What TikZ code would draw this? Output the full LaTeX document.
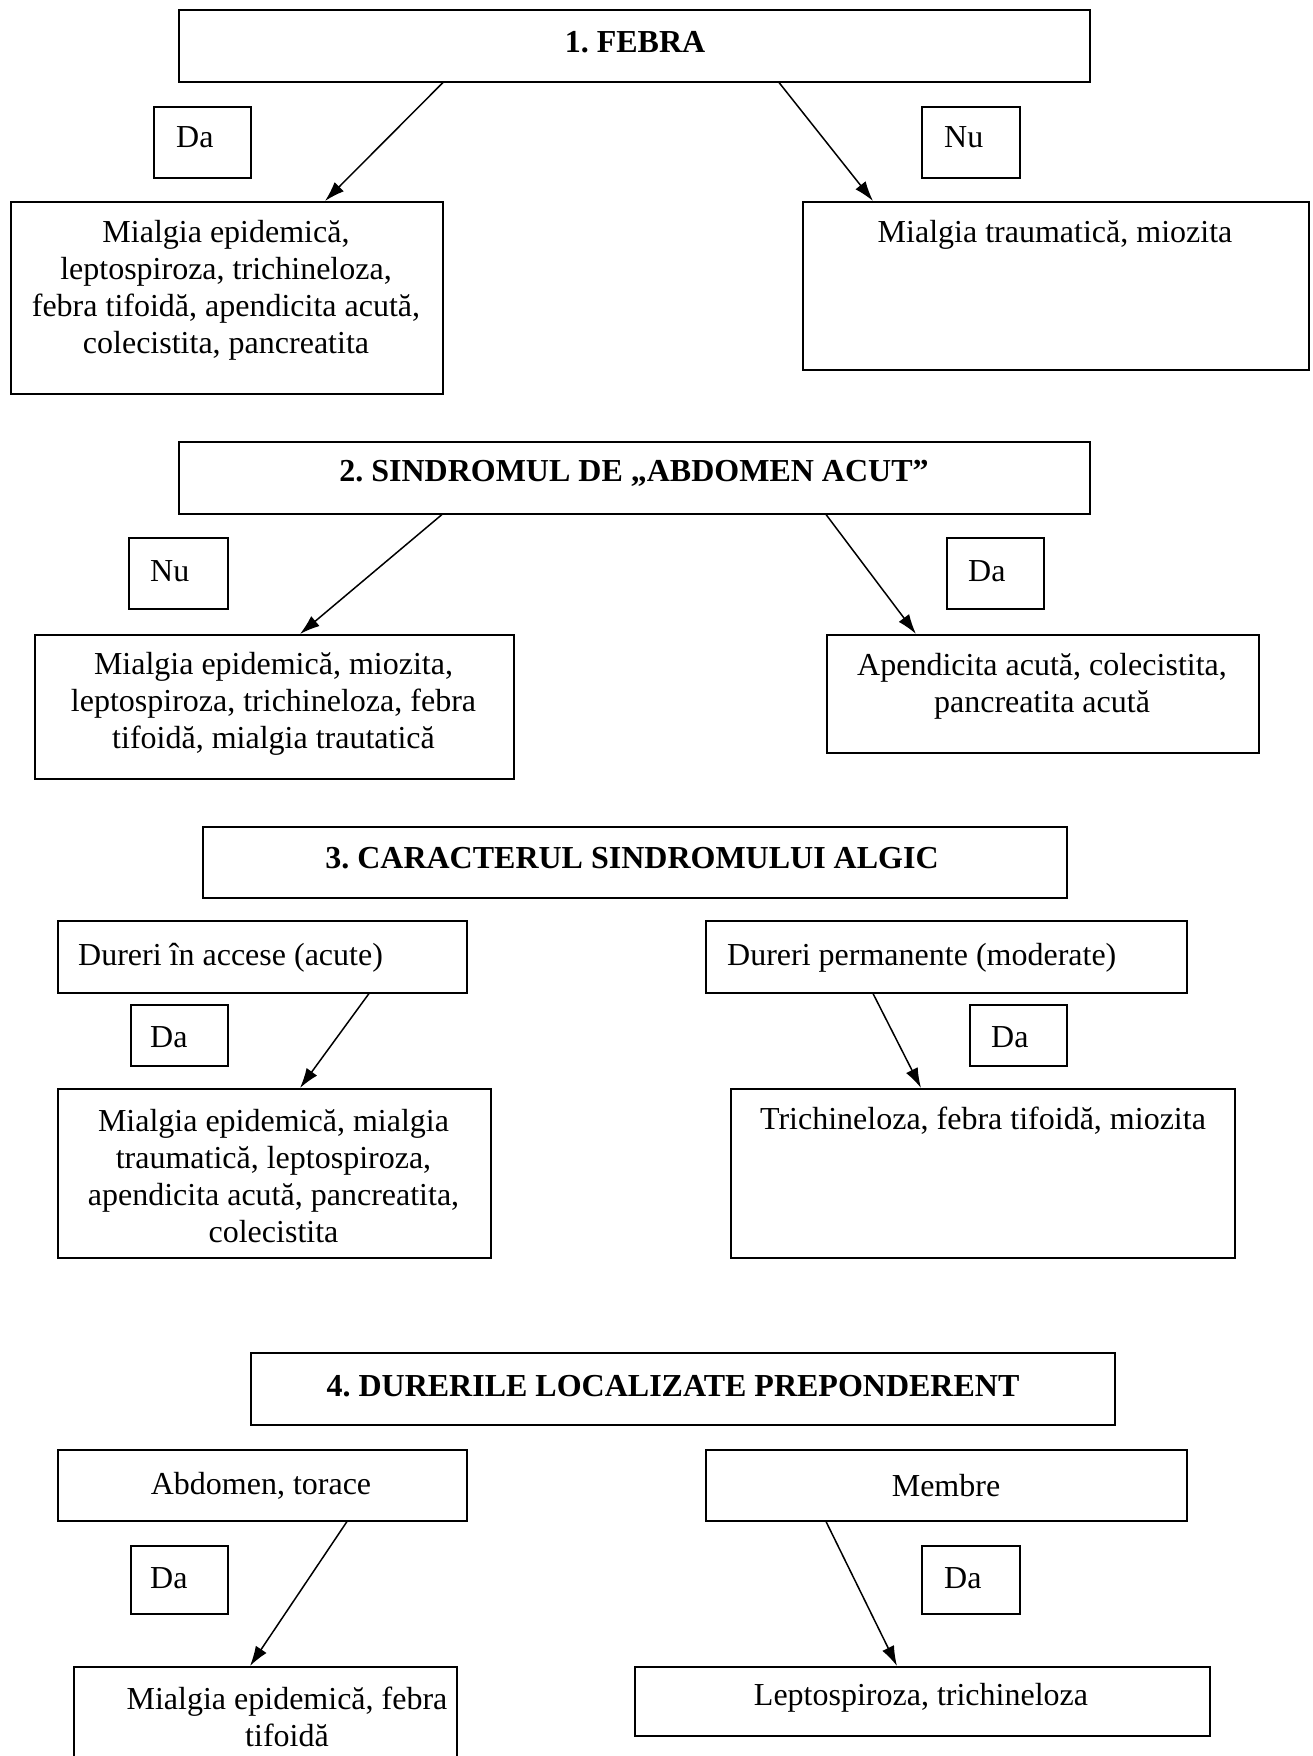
\documentclass[tikz,border=0pt]{standalone}
\usepackage{fontspec}
\setmainfont{Liberation Serif}
\usetikzlibrary{arrows.meta}
\frenchspacing
\tikzset{
  box/.style={draw, line width=1.5pt, inner sep=0pt, anchor=north west},
  txt/.style={inner sep=0pt, align=center, yshift=-3pt, font=\fontsize{32}{37}\selectfont},
  ltxt/.style={inner sep=0pt, anchor=west, yshift=-3pt, font=\fontsize{32}{37}\selectfont},
  btxt/.style={inner sep=0pt, align=center, yshift=-2pt, font=\fontsize{32}{37}\selectfont\bfseries},
  arr/.style={line width=1.5pt, -{Latex[length=20pt,width=13pt]}}
}
\begin{document}
\begin{tikzpicture}[x=1pt,y=-1pt]
\useasboundingbox (0,0) rectangle (1312,1756);
\clip (0,0) rectangle (1312,1756);
\fill[white] (0,0) rectangle (1312,1756);

% ---------- 1 ----------
\node[box, minimum width=911pt, minimum height=72pt] (f1) at (178,9) {};
\node[btxt] (f1t) at (635,40) {1. FEBRA};
\node[box, minimum width=97pt, minimum height=71pt] (da1) at (153,106) {};
\node[ltxt] (da1t) at (176,134) {Da};
\node[box, minimum width=98pt, minimum height=71pt] (nu1) at (921,106) {};
\node[ltxt] (nu1t) at (944,134) {Nu};
\node[box, minimum width=432pt, minimum height=192pt] (l1) at (10,201) {};
\node[txt] (l1t) at (226,287.5) {Mialgia epidemică,\\leptospiroza, trichineloza,\\febra tifoidă, apendicita acută,\\colecistita, pancreatita};
\node[box, minimum width=506pt, minimum height=168pt] (r1) at (802,201) {};
\node[txt] (r1t) at (1055,232) {Mialgia traumatică, miozita};
\draw[arr] ([xshift=265pt]f1.south west) -- ([xshift=315pt]l1.north west);
\draw[arr] ([xshift=601pt]f1.south west) -- ([xshift=71pt]r1.north west);

% ---------- 2 ----------
\node[box, minimum width=911pt, minimum height=72pt] (f2) at (178,441) {};
\node[btxt] (f2t) at (634,471) {2. SINDROMUL DE „ABDOMEN ACUT”};
\node[box, minimum width=99pt, minimum height=71pt] (nu2) at (128,537) {};
\node[ltxt] (nu2t) at (150,568) {Nu};
\node[box, minimum width=97pt, minimum height=71pt] (da2) at (946,537) {};
\node[ltxt] (da2t) at (968,568) {Da};
\node[box, minimum width=479pt, minimum height=144pt] (l2) at (34,634) {};
\node[txt] (l2t) at (273.5,700.5) {Mialgia epidemică, miozita,\\leptospiroza, trichineloza, febra\\tifoidă, mialgia trautatică};
\node[box, minimum width=432pt, minimum height=118pt] (r2) at (826,634) {};
\node[txt] (r2t) at (1042,683.5) {Apendicita acută, colecistita,\\pancreatita acută};
\draw[arr] ([xshift=264pt]f2.south west) -- ([xshift=266pt]l2.north west);
\draw[arr] ([xshift=648pt]f2.south west) -- ([xshift=90pt]r2.north west);

% ---------- 3 ----------
\node[box, minimum width=864pt, minimum height=71pt] (f3) at (202,826) {};
\node[btxt] (f3t) at (632,856) {3. CARACTERUL SINDROMULUI ALGIC};
\node[box, minimum width=409pt, minimum height=72pt] (h3l) at (57,920) {};
\node[ltxt] (h3lt) at (78,955) {Dureri în accese (acute)};
\node[box, minimum width=481pt, minimum height=72pt] (h3r) at (705,920) {};
\node[ltxt] (h3rt) at (727,955) {Dureri permanente (moderate)};
\node[box, minimum width=97pt, minimum height=61pt] (da3l) at (130,1004) {};
\node[ltxt] (da3lt) at (150,1034) {Da};
\node[box, minimum width=97pt, minimum height=61pt] (da3r) at (969,1004) {};
\node[ltxt] (da3rt) at (991,1034) {Da};
\node[box, minimum width=433pt, minimum height=169pt] (r3l) at (57,1088) {};
\node[txt] (r3lt) at (273.5,1173.5) {Mialgia epidemică, mialgia\\traumatică, leptospiroza,\\apendicita acută, pancreatita,\\colecistita};
\node[box, minimum width=504pt, minimum height=169pt] (r3r) at (730,1088) {};
\node[txt] (r3rt) at (983,1118) {Trichineloza, febra tifoidă, miozita};
\draw[arr] ([xshift=312pt]h3l.south west) -- ([xshift=243pt]r3l.north west);
\draw[arr] ([xshift=168pt]h3r.south west) -- ([xshift=191pt]r3r.north west);

% ---------- 4 ----------
\node[box, minimum width=864pt, minimum height=72pt] (f4) at (250,1352) {};
\node[btxt] (f4t) at (673,1384) {4. DURERILE LOCALIZATE PREPONDERENT};
\node[box, minimum width=409pt, minimum height=71pt] (h4l) at (57,1449) {};
\node[txt] (h4lt) at (261,1483) {Abdomen, torace};
\node[box, minimum width=481pt, minimum height=71pt] (h4r) at (705,1449) {};
\node[txt] (h4rt) at (946,1483) {Membre};
\node[box, minimum width=97pt, minimum height=68pt] (da4l) at (130,1545) {};
\node[ltxt] (da4lt) at (150,1575) {Da};
\node[box, minimum width=98pt, minimum height=68pt] (da4r) at (921,1545) {};
\node[ltxt] (da4rt) at (944,1575) {Da};
\node[box, minimum width=383pt, minimum height=150pt] (r4l) at (73,1666) {};
\node[txt] (r4lt) at (287,1713.5) {Mialgia epidemică, febra\\tifoidă};
\node[box, minimum width=575pt, minimum height=69pt] (r4r) at (634,1666) {};
\node[txt] (r4rt) at (921,1695) {Leptospiroza, trichineloza};
\draw[arr] ([xshift=290pt]h4l.south west) -- ([xshift=177pt]r4l.north west);
\draw[arr] ([xshift=121pt]h4r.south west) -- ([xshift=263pt]r4r.north west);
\end{tikzpicture}
\end{document}
